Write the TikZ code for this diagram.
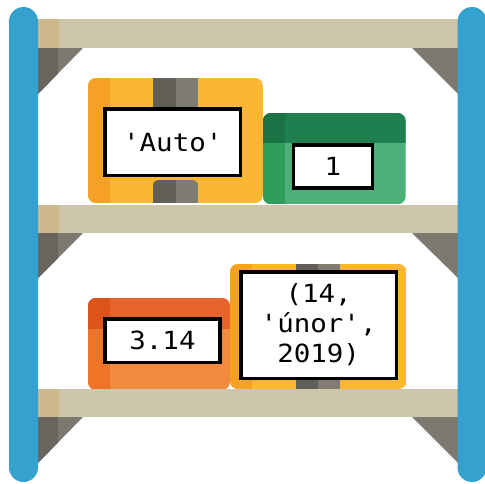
\documentclass[tikz,border=0pt]{standalone}
\usepackage{fontspec}
\newfontfamily\labelmono[FakeStretch=1.1,Ligatures=TeXOff]{DejaVu Sans Mono}

% palette
\definecolor{postblue}{HTML}{35A1CE}
\definecolor{plank}{HTML}{CEC6AA}
\definecolor{plankend}{HTML}{CDB98B}
\definecolor{brace}{HTML}{7C7971}
\definecolor{bracedark}{HTML}{69655C}
\definecolor{yel}{HTML}{FBB732}
\definecolor{yeldark}{HTML}{F4A125}
\definecolor{tapedark}{HTML}{625F58}
\definecolor{tapelight}{HTML}{807C74}
\definecolor{gtop}{HTML}{207F4E}
\definecolor{gtopdark}{HTML}{1B7244}
\definecolor{gbody}{HTML}{4CB079}
\definecolor{gbodydark}{HTML}{2F9E5B}
\definecolor{otop}{HTML}{E8632A}
\definecolor{otopdark}{HTML}{DC5419}
\definecolor{obody}{HTML}{F28B3D}
\definecolor{obodydark}{HTML}{EE7528}

\tikzset{
  lbl/.style={draw=black, fill=white, line width=3.5pt, inner sep=0pt,
    font=\labelmono\fontsize{25}{30}\selectfont, align=center},
  boxshape/.style={rounded corners=8pt},
}

\begin{document}
\begin{tikzpicture}[x=1pt,y=-1pt]
\useasboundingbox (0,0) rectangle (485,484);

% ---------- planks and brackets ----------
\foreach \top/\bot/\tip in {19/48/94, 205/233/278, 389/417/463}{
  % left bracket
  \begin{scope}
    \clip (38,\bot) -- (83,\bot) -- (38,\tip) -- cycle;
    \fill[brace] (38,\bot) rectangle (83,\tip);
    \fill[bracedark] (38,\bot) rectangle (58,\tip);
  \end{scope}
  % right bracket
  \fill[brace] (458,\bot) -- (412,\bot) -- (458,\tip) -- cycle;
}

% ---------- box with 'Auto' ----------
\begin{scope}
  \clip[boxshape] (88,78) rectangle (263,203);
  \fill[yel] (88,78) rectangle (263,203);
  \fill[yeldark] (88,78) rectangle (110,203);
  \fill[tapedark] (152.7,78) rectangle (175.5,112);
  \fill[tapelight] (175.5,78) rectangle (198.3,112);
  \begin{scope}
    \clip[rounded corners=6pt] (152.7,180) rectangle (198.3,215);
    \fill[tapedark] (152.7,180) rectangle (175.5,215);
    \fill[tapelight] (175.5,180) rectangle (198.3,215);
  \end{scope}
\end{scope}
\node[lbl, minimum width=135.5pt, minimum height=66.5pt] (auto) at (172.8,142.3) {'Auto'};

% ---------- box with 1 ----------
\begin{scope}
  \clip[boxshape] (263,113) rectangle (405.7,204.3);
  \fill[gbody] (263,113) rectangle (405.7,204.3);
  \fill[gbodydark] (263,113) rectangle (285,204.3);
  \fill[gtop] (263,113) rectangle (405.7,143.3);
  \fill[gtopdark] (263,113) rectangle (285,143.3);
\end{scope}
\node[lbl, minimum width=78.8pt, minimum height=43.2pt] (one) at (332.85,166.65) {1};

% ---------- box with 3.14 ----------
\begin{scope}
  \clip[boxshape] (88,298) rectangle (230,390);
  \fill[obody] (88,298) rectangle (230,390);
  \fill[obodydark] (88,298) rectangle (110,390);
  \fill[otop] (88,298) rectangle (230,329.3);
  \fill[otopdark] (88,298) rectangle (110,329.3);
\end{scope}
\node[lbl, minimum width=114.9pt, minimum height=43.2pt] (pi) at (162.5,340.65) {3.14};

% ---------- box with the date tuple ----------
\begin{scope}
  \clip[boxshape] (230,264) rectangle (406.7,389);
  \fill[yel] (230,264) rectangle (406.7,389);
  \fill[yeldark] (230,264) rectangle (251.7,389);
  \fill[tapedark] (295.5,264) rectangle (317.7,389);
  \fill[tapelight] (317.7,264) rectangle (340,389);
\end{scope}
\node[lbl, minimum width=155.8pt, minimum height=106.5pt] (date) at (318.65,325) {(14,\\'únor',\\2019)};

% ---------- shelf boards ----------
\foreach \top/\bot in {19/48, 205/233, 389/417}{
  \fill[plank] (38,\top) rectangle (458,\bot);
  \fill[plankend] (38,\top) rectangle (59,\bot);
}

% ---------- uprights ----------
\fill[postblue, rounded corners=14.5pt] (9,7) rectangle (38,482);
\fill[postblue, rounded corners=14.5pt] (457.5,7) rectangle (486.5,482);
\end{tikzpicture}
\end{document}
